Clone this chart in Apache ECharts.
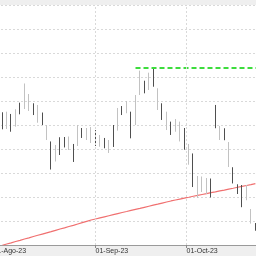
<!DOCTYPE html>
<html>
<head>
<meta charset="utf-8">
<script src="https://cdn.jsdelivr.net/npm/echarts@6/dist/echarts.min.js"></script>
<style>
  html, body { margin: 0; padding: 0; }
  #chart { width: 256px; height: 256px; }
</style>
</head>
<body>
<div id="chart"></div>
<script>
// trading days shown (weekdays only)
const dates = [
  '2023-08-03','2023-08-04','2023-08-07','2023-08-08','2023-08-09','2023-08-10','2023-08-11',
  '2023-08-14','2023-08-15','2023-08-16','2023-08-17','2023-08-18','2023-08-21','2023-08-22',
  '2023-08-23','2023-08-24','2023-08-25','2023-08-28','2023-08-29','2023-08-30','2023-08-31',
  '2023-09-01','2023-09-04','2023-09-05','2023-09-06','2023-09-07','2023-09-08','2023-09-11',
  '2023-09-12','2023-09-13','2023-09-14','2023-09-15','2023-09-18','2023-09-19','2023-09-20',
  '2023-09-21','2023-09-22','2023-09-25','2023-09-26','2023-09-27','2023-09-28','2023-09-29',
  '2023-10-02','2023-10-03','2023-10-04','2023-10-05','2023-10-06','2023-10-09','2023-10-10',
  '2023-10-11','2023-10-12','2023-10-13','2023-10-16','2023-10-17','2023-10-18','2023-10-19',
  '2023-10-20','2023-10-23'
];

const opens = [
  110.06,109.67,110.34,109.86,111.50,111.33,111.17,111.37,110.19,110.75,
  108.75,107.42,106.96,108.67,108.64,107.92,107.64,108.25,109.39,108.75,
  108.50,108.67,108.19,108.73,107.67,108.31,109.53,111.31,110.98,110.34,
  110.00,112.50,113.39,112.92,114.39,111.25,111.06,109.58,109.81,109.44,
  108.63,108.81,106.69,106.56,103.92,104.42,104.25,104.31,110.06,108.75,
  109.48,106.50,105.62,104.64,104.89,103.73,101.78,101.64
];
const closes = [
  109.94,111.11,110.22,111.31,111.38,113.46,112.58,111.25,111.67,110.63,
  110.00,107.30,108.33,108.55,108.52,109.04,107.52,110.00,109.27,109.75,
  109.83,108.55,109.17,108.61,108.75,108.19,111.42,111.19,112.00,110.22,
  112.50,114.53,113.27,114.36,114.27,113.06,110.94,111.11,109.69,110.50,
  110.28,108.69,108.42,106.44,105.75,105.71,105.58,104.19,109.94,109.92,
  109.36,108.58,105.50,104.52,104.77,105.00,103.00,101.52
];
const lows = [
  109.64,109.67,109.44,109.86,110.89,111.33,111.17,110.83,110.19,110.00,
  108.75,106.29,106.96,107.50,108.13,107.92,106.92,108.25,108.92,108.75,
  108.50,108.25,108.19,108.06,107.67,108.17,109.53,110.83,110.98,108.89,
  110.00,112.50,112.64,112.92,113.19,111.25,110.42,109.58,109.17,109.44,
  108.63,107.94,106.69,104.83,103.92,104.42,104.25,103.96,109.73,108.75,
  108.73,106.50,105.13,104.25,103.15,103.73,101.78,101.19
];
const highs = [
  111.06,111.11,110.92,111.31,111.86,113.46,112.58,111.81,111.67,111.04,
  110.00,108.63,108.33,108.98,109.00,109.04,108.42,110.00,109.75,109.75,
  109.83,109.58,109.17,108.92,108.75,110.00,111.42,111.58,112.00,111.11,
  112.50,114.53,113.69,114.36,114.73,113.06,111.81,111.11,110.28,110.50,
  110.28,109.75,108.42,107.63,105.75,105.71,105.58,105.54,111.67,109.92,
  109.73,108.58,106.48,105.06,105.00,105.00,103.00,101.83
];

// long moving average
const movingAvg = [
  99.98,100.08,100.18,100.29,100.39,100.50,100.60,100.71,100.81,100.91,
  101.01,101.11,101.22,101.33,101.43,101.54,101.64,101.75,101.86,101.97,
  102.08,102.17,102.26,102.35,102.44,102.53,102.62,102.71,102.79,102.88,
  102.97,103.05,103.14,103.23,103.32,103.40,103.49,103.58,103.67,103.75,
  103.83,103.91,103.98,104.06,104.13,104.21,104.28,104.36,104.43,104.51,
  104.58,104.66,104.73,104.81,104.88,104.96,105.03,105.11
];

// resistance line
const resistanceLevel = 114.75;
const resistanceFrom = '2023-09-14';

// month ticks
const tickDates = ['2023-08-01', '2023-09-01', '2023-10-01'];
const tickLabels = ['01-Ago-23', '01-Sep-23', '01-Oct-23'];

function toUTC(d) { return new Date(d + 'T00:00:00Z'); }
function isWeekday(dt) { const w = dt.getUTCDay(); return w !== 0 && w !== 6; }

// position of a calendar date on the trading-day axis
function tradingPos(d) {
  const start = toUTC(dates[0]);
  const end = toUTC(d);
  const a = end < start ? end : start;
  const b = end < start ? start : end;
  let n = 0;
  for (let t = new Date(a); t < b; t.setUTCDate(t.getUTCDate() + 1)) {
    if (isWeekday(t)) n++;
  }
  let pos = end < start ? -n : n;
  if (!isWeekday(end)) pos -= 0.5;
  return pos;
}

const tickPositions = tickDates.map(tradingPos);

const candles = dates.map((d, i) => [i, opens[i], closes[i], lows[i], highs[i]]);
const maLine = dates.map((d, i) => [i, movingAvg[i]]);
const resIdx = dates.indexOf(resistanceFrom);
const resLine = [[resIdx, resistanceLevel], [dates.length + 2, resistanceLevel]];

const gridStyle = { color: '#d9d9d9', type: [2, 2], width: 1 };

const chart = echarts.init(document.getElementById('chart'));

chart.setOption({
  animation: false,
  backgroundColor: '#efefef',
  grid: {
    left: -11,
    right: 0,
    top: 5,
    bottom: 11,
    outerBoundsMode: 'none',
    containLabel: false,
    show: true,
    backgroundColor: '#ffffff',
    borderWidth: 0
  },
  xAxis: {
    type: 'value',
    min: -3,
    max: 57.14,
    axisLine: { show: true, onZero: false, lineStyle: { color: '#9a9a9a', width: 1 } },
    axisTick: {
      show: true,
      customValues: tickPositions,
      length: 3,
      lineStyle: { color: '#8a8a8a' }
    },
    axisLabel: {
      customValues: tickPositions,
      align: 'left',
      margin: 3,
      fontSize: 7,
      fontFamily: 'Liberation Sans Narrow, Liberation Sans, sans-serif',
      color: '#333',
      formatter: function (v) {
        const k = tickPositions.findIndex(p => Math.abs(p - v) < 0.01);
        return k >= 0 ? tickLabels[k] : '';
      }
    },
    splitLine: { show: false }
  },
  yAxis: {
    type: 'value',
    min: 100,
    max: 120,
    interval: 2,
    axisLine: { show: false },
    axisTick: { show: false },
    axisLabel: { show: false },
    splitLine: { show: true, lineStyle: gridStyle }
  },
  series: [
    {
      // month gridlines
      type: 'line',
      data: [],
      silent: true,
      z: 0,
      markLine: {
        silent: true,
        symbol: 'none',
        label: { show: false },
        lineStyle: gridStyle,
        emphasis: { disabled: true },
        data: tickPositions.map(p => ({ xAxis: p }))
      }
    },
    {
      type: 'line',
      data: maLine,
      symbol: 'none',
      clip: true,
      lineStyle: { color: '#f07070', width: 1.2 },
      z: 1
    },
    {
      type: 'candlestick',
      data: candles,
      barWidth: 1,
      clip: true,
      itemStyle: {
        color: '#c2c2c2',
        borderColor: '#c2c2c2',
        color0: '#4f4f4f',
        borderColor0: '#4f4f4f',
        borderWidth: 1
      },
      z: 2
    },
    {
      type: 'line',
      data: resLine,
      symbol: 'none',
      clip: true,
      lineStyle: { color: '#3ddc3d', width: 2, type: [5, 3] },
      z: 3
    }
  ]
});
</script>
</body>
</html>
